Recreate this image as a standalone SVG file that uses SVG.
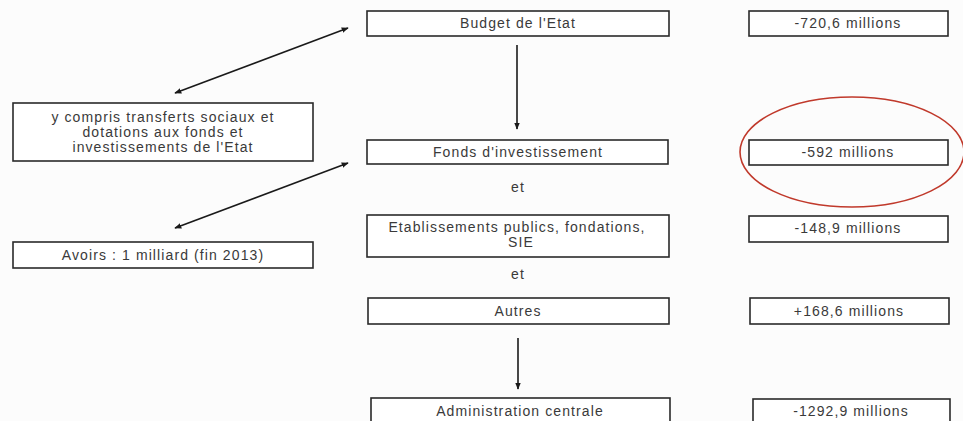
<svg xmlns="http://www.w3.org/2000/svg" width="963" height="421" viewBox="0 0 963 421">
<defs>
<style>
.box{fill:#fff;stroke:#2a2a2a;stroke-width:1.6}
.t{font-family:"Liberation Sans",Arial,sans-serif;font-size:14px;letter-spacing:1.1px;fill:#3a3a3a;text-anchor:middle}
.c{stroke:#1a1a1a;stroke-width:1.6;fill:none}
</style>
<marker id="ah" viewBox="0 0 10 10" refX="9" refY="5" markerWidth="7" markerHeight="7" orient="auto-start-reverse" markerUnits="userSpaceOnUse">
<path d="M0,1 L10,5 L0,9 Z" fill="#1a1a1a"/>
</marker>
</defs>
<rect width="963" height="421" fill="#fcfcfc"/>
<g id="budget"><rect class="box" x="367" y="11" width="302" height="25"/><text class="t" x="518" y="28">Budget de l'Etat</text></g>
<g id="v720"><rect class="box" x="749" y="11" width="199" height="25"/><text class="t" x="848" y="28">-720,6 millions</text></g>
<g id="transferts"><rect class="box" x="13" y="103" width="300" height="58"/><text class="t" x="163" y="122">y compris transferts sociaux et</text><text class="t" x="163" y="137">dotations aux fonds et</text><text class="t" x="163" y="152">investissements de l'Etat</text></g>
<g id="fonds"><rect class="box" x="367" y="140" width="301" height="24"/><text class="t" x="518" y="157">Fonds d'investissement</text></g>
<g id="v592"><rect class="box" x="749" y="140" width="199" height="25"/><text class="t" x="848" y="157">-592 millions</text></g>
<g id="highlight"><ellipse cx="852" cy="152" rx="112" ry="55" fill="none" stroke="#c0392b" stroke-width="1.6"/></g>
<g id="et1"><text class="t" x="518" y="192">et</text></g>
<g id="avoirs"><rect class="box" x="13" y="242" width="300" height="26"/><text class="t" x="163" y="260">Avoirs : 1 milliard (fin 2013)</text></g>
<g id="etablissements"><rect class="box" x="367" y="215" width="302" height="42"/><text class="t" x="517" y="232">Etablissements publics, fondations,</text><text class="t" x="521" y="247">SIE</text></g>
<g id="v148"><rect class="box" x="749" y="216" width="199" height="26"/><text class="t" x="848" y="233">-148,9 millions</text></g>
<g id="et2"><text class="t" x="518" y="279">et</text></g>
<g id="autres"><rect class="box" x="368" y="298" width="301" height="26"/><text class="t" x="518" y="316">Autres</text></g>
<g id="v168"><rect class="box" x="750" y="298" width="199" height="26"/><text class="t" x="849" y="316">+168,6 millions</text></g>
<g id="admin"><rect class="box" x="371" y="398" width="299" height="30"/><text class="t" x="520" y="416">Administration centrale</text></g>
<g id="v1292"><rect class="box" x="753" y="399" width="197" height="30"/><text class="t" x="851" y="416">-1292,9 millions</text></g>
<g id="connectors">
<line class="c" x1="517" y1="45" x2="517" y2="129" marker-end="url(#ah)"/>
<line class="c" x1="518" y1="338" x2="518" y2="389" marker-end="url(#ah)"/>
<line class="c" x1="175" y1="93" x2="348" y2="28" marker-start="url(#ah)" marker-end="url(#ah)"/>
<line class="c" x1="175" y1="228" x2="348" y2="163" marker-start="url(#ah)" marker-end="url(#ah)"/>
</g>
</svg>
